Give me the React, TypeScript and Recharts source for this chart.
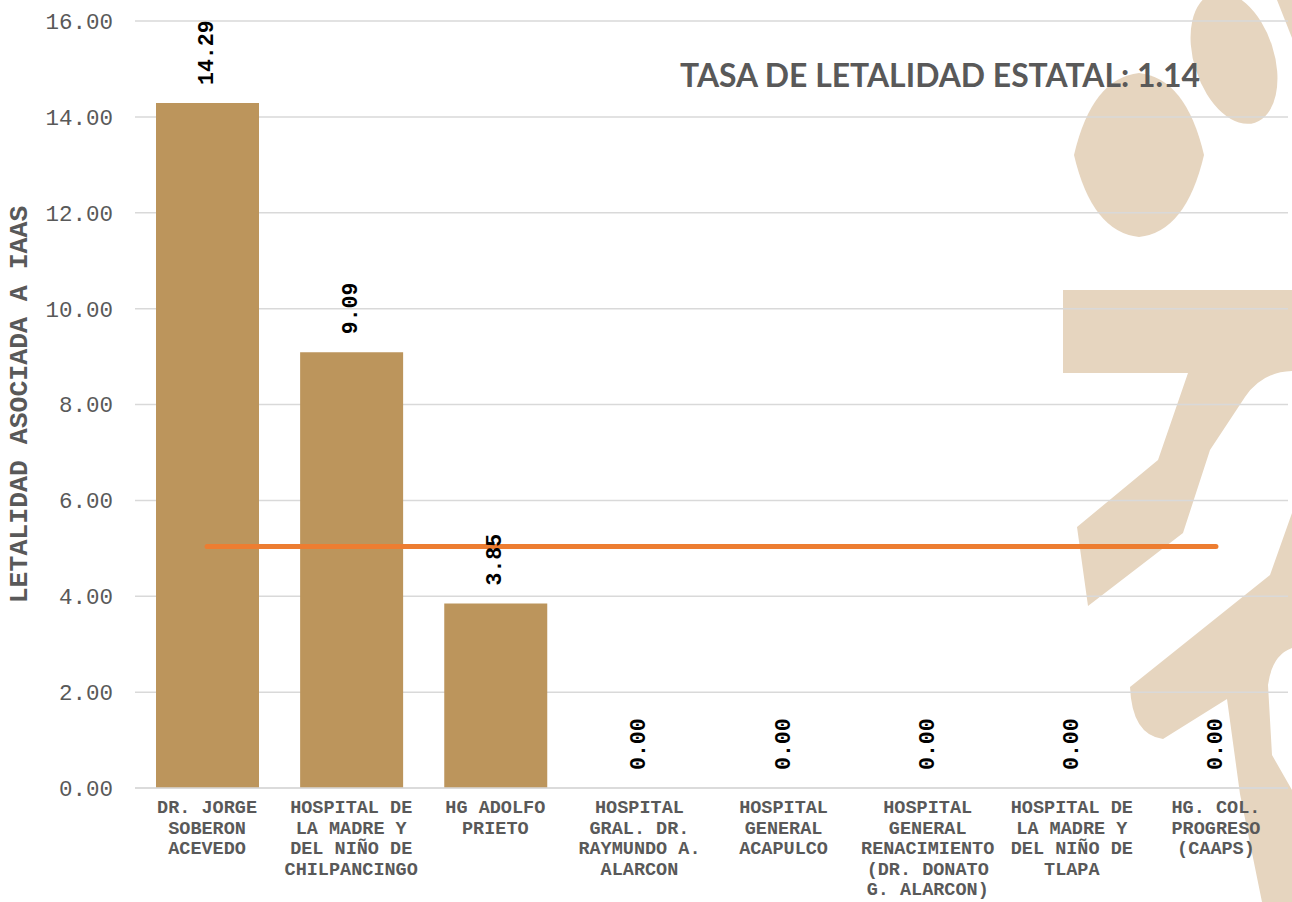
import React from 'react';
import {
  ComposedChart,
  Bar,
  Line,
  XAxis,
  YAxis,
  CartesianGrid,
  LabelList,
} from 'recharts';

// ---------- data ----------
const categoryLines: string[][] = [
  ['DR. JORGE', 'SOBERON', 'ACEVEDO'],
  ['HOSPITAL DE', 'LA MADRE Y', 'DEL NIÑO DE', 'CHILPANCINGO'],
  ['HG ADOLFO', 'PRIETO'],
  ['HOSPITAL', 'GRAL. DR.', 'RAYMUNDO A.', 'ALARCON'],
  ['HOSPITAL', 'GENERAL', 'ACAPULCO'],
  ['HOSPITAL', 'GENERAL', 'RENACIMIENTO', '(DR. DONATO', 'G. ALARCON)'],
  ['HOSPITAL DE', 'LA MADRE Y', 'DEL NIÑO DE', 'TLAPA'],
  ['HG. COL.', 'PROGRESO', '(CAAPS)'],
];
const letalidad: number[] = [14.29, 9.09, 3.85, 0, 0, 0, 0, 0];
const tasaEstatal: number[] = [5.04, 5.04, 5.04, 5.04, 5.04, 5.04, 5.04, 5.04];
const yTicks: number[] = [0, 2, 4, 6, 8, 10, 12, 14, 16];
const titleText = 'TASA DE LETALIDAD ESTATAL: 1.14';
const yLabelText = 'LETALIDAD ASOCIADA A IAAS';

const data = categoryLines.map((lines, i) => ({
  name: lines.join(' '),
  value: letalidad[i],
  estatal: tasaEstatal[i],
}));

// ---------- styles ----------
const MONO = '"Courier New", "Liberation Mono", monospace';
const GRAY = '#595959';
const GRID = '#D9D9D9';
const BAR = '#BC955C';
const LINE = '#ED7D31';
const WM = '#E6D5BF';

const XTick = (props: any) => {
  const { x, y, payload } = props;
  const lines: string[] = categoryLines[payload.index] || [String(payload.value)];
  return (
    <text
      x={x}
      y={y}
      textAnchor="middle"
      fontFamily={MONO}
      fontWeight="bold"
      fontSize={18.5}
      fill={GRAY}
    >
      {lines.map((l, i) => (
        <tspan key={i} x={x} dy={i === 0 ? 17 : 20.5}>
          {l}
        </tspan>
      ))}
    </text>
  );
};

const ValueLabel = (props: any) => {
  const { x, y, width, value } = props;
  const cx = x + (width || 0) / 2;
  const ty = y - 18;
  return (
    <text
      x={cx}
      y={ty}
      transform={`rotate(-90, ${cx}, ${ty})`}
      textAnchor="start"
      dominantBaseline="central"
      fontFamily={MONO}
      fontWeight="bold"
      fontSize={21.5}
      fill="#000000"
    >
      {Number(value).toFixed(2)}
    </text>
  );
};

const YLabel = (props: any) => {
  const { viewBox } = props;
  const cy = viewBox.y + viewBox.height / 2;
  const cx = 20;
  return (
    <text
      x={cx}
      y={cy}
      transform={`rotate(-90, ${cx}, ${cy})`}
      textAnchor="middle"
      dominantBaseline="central"
      fontFamily={MONO}
      fontWeight="bold"
      fontSize={26.5}
      fill={GRAY}
    >
      {yLabelText}
    </text>
  );
};

const Watermark = () => (
  <svg
    width={1292}
    height={902}
    style={{ position: 'absolute', left: 0, top: 0 }}
  >
    <g fill={WM}>
      <ellipse cx={1234} cy={58} rx={40} ry={68} transform="rotate(-18, 1234, 58)" />
      <polygon points="1277,0 1292,0 1292,38" />
      <path d="M1074 155 Q1092 78 1139 73 Q1186 78 1204 155 Q1186 232 1139 237 Q1092 232 1074 155 Z" />
      <path d="M1063 290 L1292 290 L1292 371 Q1262 372 1245 397 L1210 450 L1183 533 L1088 606 L1077 527 L1158 460 L1188 373 L1063 373 Z" />
      <path d="M1292 513 L1270 575 L1130 687 Q1132 735 1163 739 L1227 699 L1240 794 L1262 902 L1292 902 L1292 790 L1272 755 L1268 685 Q1272 655 1292 648 Z" />
    </g>
  </svg>
);

export default function App() {
  return (
    <div
      style={{
        position: 'absolute',
        left: 0,
        top: 0,
        width: 1292,
        height: 902,
        background: '#FFFFFF',
        overflow: 'hidden',
      }}
    >
      <Watermark />
      <div style={{ position: 'absolute', left: 0, top: 0 }}>
        <ComposedChart
          width={1292}
          height={902}
          data={data}
          margin={{ top: 21, right: 4, left: 0, bottom: 0 }}
          barCategoryGap={0}
        >
          <CartesianGrid vertical={false} stroke={GRID} strokeWidth={1.5} />
          <XAxis
            dataKey="name"
            height={114}
            interval={0}
            tickLine={false}
            tickMargin={2}
            axisLine={{ stroke: GRID, strokeWidth: 1.5 }}
            tick={<XTick />}
          />
          <YAxis
            width={135}
            domain={[0, 16]}
            ticks={yTicks}
            interval={0}
            axisLine={false}
            tickLine={false}
            tickMargin={16}
            tickFormatter={(v: number) => v.toFixed(2)}
            tick={{ fontFamily: MONO, fontSize: 22.5, fill: GRAY }}
            label={<YLabel />}
          />
          <Bar dataKey="value" fill={BAR} barSize={103} isAnimationActive={false} />
          <Line
            dataKey="estatal"
            type="linear"
            stroke={LINE}
            strokeWidth={5}
            strokeLinecap="round"
            dot={false}
            activeDot={false}
            isAnimationActive={false}
          />
          <Line
            dataKey="value"
            type="linear"
            stroke="none"
            dot={false}
            activeDot={false}
            legendType="none"
            isAnimationActive={false}
          >
            <LabelList dataKey="value" content={<ValueLabel />} />
          </Line>
        </ComposedChart>
      </div>
      <svg
        width={1292}
        height={902}
        style={{ position: 'absolute', left: 0, top: 0, pointerEvents: 'none' }}
      >
        <text
          x={680}
          y={87}
          fontFamily="Lato, 'Open Sans', sans-serif"
          fontWeight="bold"
          fontSize={33}
          fill={GRAY}
          textLength={520}
          lengthAdjust="spacingAndGlyphs"
        >
          {titleText}
        </text>
      </svg>
    </div>
  );
}
